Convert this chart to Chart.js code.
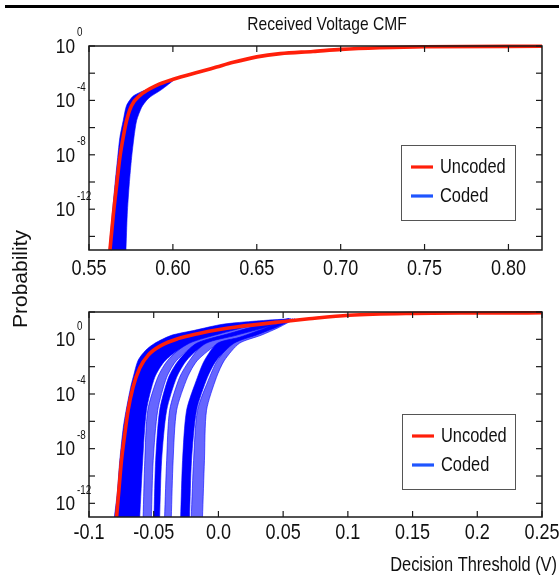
<!DOCTYPE html>
<html><head><meta charset="utf-8">
<script src="https://cdn.jsdelivr.net/npm/chart.js@4.4.0/dist/chart.umd.min.js"></script>
<style>
html,body{margin:0;padding:0;background:#fff;}
#wrap{position:relative;width:559px;height:577px;overflow:hidden;background:#fff;}
canvas{position:absolute;left:0;top:0;}
#rule{position:absolute;left:5px;top:5px;width:554px;height:2.5px;background:#000;}
</style></head><body>
<div id="wrap"><div id="rule"></div><canvas id="cTop" width="559" height="577"></canvas><canvas id="cBot" width="559" height="577"></canvas></div>
<script>
// ---------- tick definitions ----------
const topXTicks = [0.55, 0.60, 0.65, 0.70, 0.75, 0.80];
const topXLabels = ['0.55', '0.60', '0.65', '0.70', '0.75', '0.80'];
const bottomXTicks = [-0.1, -0.05, 0, 0.05, 0.1, 0.15, 0.2, 0.25];
const bottomXLabels = ['-0.1', '-0.05', '0.0', '0.05', '0.1', '0.15', '0.2', '0.25'];
const topYTickExps = [0, -2, -4, -6, -8, -10, -12, -14];
const bottomYTickExps = [2, 0, -2, -4, -6, -8, -10, -12];
const yLabelExps = [0, -4, -8, -12];

// ---------- data: [threshold (V), log10 probability] ----------
// Top panel
const topUncoded = [[0.5625,-15.0],[0.5645,-12.4],[0.5665,-10.2],[0.5684,-8.2],[0.5704,-6.7],[0.5724,-5.48],[0.5754,-4.37],[0.5804,-3.63],[0.5903,-2.89],[0.6002,-2.45],[0.616,-1.9],[0.626,-1.55],[0.636,-1.2],[0.65,-0.8],[0.664,-0.56],[0.6835,-0.4],[0.7004,-0.25],[0.7232,-0.13],[0.75,-0.05],[0.82,-0.02]];
const topCodedLeft = [[0.5619,-15.11],[0.5639,-12.37],[0.5655,-10.15],[0.5671,-8.2],[0.5684,-6.72],[0.5704,-5.48],[0.5724,-4.37],[0.5762,-3.7],[0.5804,-3.41],[0.5863,-3.11],[0.5922,-2.81],[0.601,-2.42]];
const topCodedRight = [[0.572,-15.11],[0.5728,-12.37],[0.574,-10.15],[0.5754,-8.2],[0.5768,-6.72],[0.5784,-5.48],[0.5814,-4.5],[0.5843,-4.0],[0.5863,-3.76],[0.5933,-3.2],[0.601,-2.46]];
// Bottom panel
const bottomUncoded = [[-0.0787,-13],[-0.0767,-10.8],[-0.0749,-8.85],[-0.0723,-6.9],[-0.0698,-5.2],[-0.066,-3.5],[-0.0608,-2.1],[-0.0544,-1.17],[-0.0441,-0.44],[-0.0313,0.05],[-0.0159,0.41],[-0.0005,0.7],[0.015,0.92],[0.047,1.27],[0.07,1.5],[0.101,1.76],[0.15,1.9],[0.2,1.93],[0.25,1.94]];
const codedBundle1Left = [[-0.0804,-13.02],[-0.0782,-11.27],[-0.0762,-8.85],[-0.0735,-6.44],[-0.0713,-5.19],[-0.0678,-3.5],[-0.0659,-2.78],[-0.0621,-1.54],[-0.0562,-0.8],[-0.0492,-0.29],[-0.0364,0.29],[-0.0185,0.66],[0.0031,1.1],[0.0292,1.34],[0.0546,1.5]];
const codedBundle1Right = [[-0.0608,-13.02],[-0.0585,-8.85],[-0.0556,-5.19],[-0.0492,-2.78],[-0.0410,-1.54],[-0.0225,-0.29],[0.0025,0.44],[0.033,1.17],[0.0546,1.5]];
const codedBundle2Left = [[-0.0582,-13.02],[-0.0569,-8.85],[-0.0546,-5.19],[-0.0469,-2.78],[-0.0392,-1.54],[-0.0239,-0.29],[0.0007,0.44],[0.0315,1.17],[0.0546,1.5]];
const codedBundle2Right = [[-0.0518,-13.02],[-0.0504,-8.85],[-0.0469,-5.19],[-0.04,-2.78],[-0.0323,-1.54],[-0.016,-0.29],[0.0075,0.37],[0.035,1.1],[0.0546,1.5]];
const codedBundle3Left = [[-0.0498,-13.02],[-0.0485,-8.85],[-0.0454,-5.19],[-0.0385,-2.78],[-0.0308,-1.54],[-0.0169,-0.29],[0.0062,0.37],[0.034,1.1],[0.0555,1.5]];
const codedBundle3Right = [[-0.0454,-13.02],[-0.0439,-8.85],[-0.04,-5.19],[-0.0323,-2.78],[-0.0246,-1.54],[-0.0095,-0.29],[0.0135,0.29],[0.039,0.95],[0.0555,1.5]];
const codedBundle4Left = [[-0.0416,-13.02],[-0.04,-8.85],[-0.0377,-5.19],[-0.03,-2.78],[-0.0223,-1.54],[-0.0108,-0.29],[0.0123,0.29],[0.0377,0.95],[0.0562,1.5]];
const codedBundle4Right = [[-0.0364,-13.02],[-0.035,-8.85],[-0.0323,-5.19],[-0.0239,-2.78],[-0.0162,-1.54],[0.0005,-0.29],[0.0175,0.15],[0.037,0.8],[0.0562,1.5]];
const codedBundle5Left = [[-0.0292,-13.02],[-0.0277,-8.85],[-0.0246,-5.19],[-0.0162,-2.78],[-0.0108,-1.54],[-0.0008,-0.29],[0.0162,0.15],[0.0354,0.8],[0.0577,1.5]];
const codedBundle5Right = [[-0.0223,-13.02],[-0.0208,-8.85],[-0.0169,-5.19],[-0.0085,-2.78],[-0.0015,-1.54],[0.012,-0.29],[0.031,0.37],[0.0465,0.95],[0.0577,1.5]];
const codedBundle6Left = [[-0.021,-13.02],[-0.0192,-8.85],[-0.0162,-5.19],[-0.0069,-2.78],[-0.0008,-1.54],[0.0108,-0.29],[0.03,0.37],[0.0454,0.95],[0.0592,1.5]];
const codedBundle6Right = [[-0.0123,-13.02],[-0.0108,-8.85],[-0.0092,-5.19],[-0.0015,-2.78],[0.0046,-1.54],[0.0162,-0.29],[0.033,0.3],[0.0469,0.88],[0.0592,1.5]];

// ---------- helpers ----------
function hasFont(name){
  const c = document.createElement('canvas').getContext('2d');
  const s = 'abcdefghijklmnop0123456789ABCDEF';
  c.font = '40px monospace'; const w1 = c.measureText(s).width;
  c.font = '40px "' + name + '", monospace'; const w2 = c.measureText(s).width;
  return Math.abs(w1 - w2) > 0.5;
}
const NARROW = hasFont('Liberation Sans Narrow');
const FONT = NARROW ? '"Liberation Sans Narrow", sans-serif' : '"Liberation Sans", Arial, sans-serif';
function txt(ctx, s, x, y, size, align, baseline, rot, noScale){
  ctx.save();
  ctx.translate(x, y);
  if (rot) ctx.rotate(rot);
  let font = FONT;
  if (noScale) font = '"Liberation Sans", Arial, sans-serif';
  else if (!NARROW) ctx.scale(0.82, 1);
  ctx.font = size + 'px ' + font;
  ctx.textAlign = align; ctx.textBaseline = baseline; ctx.fillStyle = '#111';
  ctx.fillText(s, 0, 0);
  ctx.restore();
}
const toPts = arr => arr.map(p => ({x: p[0], y: Math.pow(10, p[1])}));
const shape = (left, right) => toPts(left).concat(toPts(right).reverse());

const RED = '#ff1f0a';
const BLUE = '#0000ff';
const LIGHT = 'rgba(0,0,255,0.6)';
const LEGBLUE = '#1f55ff';

function bandDs(left, right, dense){
  return {data: shape(left, right), showLine: true, fill: 'shape', tension: 0.25,
    backgroundColor: dense ? BLUE : LIGHT, borderColor: dense ? BLUE : 'rgba(0,0,255,0.75)',
    borderWidth: dense ? 0.6 : 0.8, pointRadius: 0};
}
function redDs(arr){
  return {data: toPts(arr), showLine: true, fill: false, borderColor: RED, borderWidth: 3.6,
    cubicInterpolationMode: 'monotone', pointRadius: 0, clip: 4};
}
function line(ctx, x1, y1, x2, y2){ ctx.beginPath(); ctx.moveTo(x1, y1); ctx.lineTo(x2, y2); ctx.stroke(); }

function decorPlugin(cfg){
  return {id: 'decor', afterDatasetsDraw(chart){
    const {ctx, chartArea: a} = chart;
    const x = chart.scales.x, y = chart.scales.y;
    ctx.save();
    ctx.strokeStyle = '#1a1a1a'; ctx.lineWidth = 1.5;
    ctx.strokeRect(a.left, a.top, a.right - a.left, a.bottom - a.top);
    ctx.lineWidth = 1.2;
    cfg.xTicks.forEach(v => { const px = x.getPixelForValue(v); line(ctx, px, a.bottom, px, a.bottom - 6); line(ctx, px, a.top, px, a.top + 6); });
    cfg.yTickExps.forEach(e => { const py = y.getPixelForValue(Math.pow(10, e)); line(ctx, a.left, py, a.left + 6, py); line(ctx, a.right, py, a.right - 6, py); });
    cfg.xTicks.forEach((v, i) => txt(ctx, cfg.xLabels[i], x.getPixelForValue(v), a.bottom + cfg.xLabelOffset, 22, 'center', 'middle'));
    yLabelExps.forEach(e => {
      const py = y.getPixelForValue(Math.pow(10, e));
      txt(ctx, '10', a.left - 14, py + 1, 21, 'right', 'middle');
      txt(ctx, String(e), a.left - 12, py - 13, 12, 'left', 'middle');
    });
    // legend
    const L = cfg.legend;
    ctx.fillStyle = '#fff'; ctx.fillRect(L.x, L.y, L.w, L.h);
    ctx.strokeStyle = '#555'; ctx.lineWidth = 1; ctx.strokeRect(L.x + 0.5, L.y + 0.5, L.w, L.h);
    ctx.lineWidth = 3.2;
    ctx.strokeStyle = RED; line(ctx, L.x + 10, L.y + 22, L.x + 32, L.y + 22);
    ctx.strokeStyle = LEGBLUE; line(ctx, L.x + 10, L.y + 51, L.x + 32, L.y + 51);
    txt(ctx, 'Uncoded', L.x + 39, L.y + 22, 20, 'left', 'middle');
    txt(ctx, 'Coded', L.x + 39, L.y + 51, 20, 'left', 'middle');
    if (cfg.extra) cfg.extra(ctx);
    ctx.restore();
  }};
}

function baseOptions(pad, xmin, xmax, ymin, ymax){
  return {
    responsive: false, animation: false, events: [], devicePixelRatio: 1,
    layout: {padding: pad},
    plugins: {legend: {display: false}, tooltip: {enabled: false}, title: {display: false}},
    scales: {
      x: {type: 'linear', min: xmin, max: xmax, display: false},
      y: {type: 'logarithmic', min: ymin, max: ymax, display: false}
    }
  };
}

new Chart(document.getElementById('cTop'), {
  type: 'scatter',
  data: {datasets: [redDs(topUncoded), bandDs(topCodedLeft, topCodedRight, true)]},
  options: baseOptions({left: 89, top: 46, right: 17, bottom: 327}, 0.55, 0.82, 1e-15, 1),
  plugins: [decorPlugin({xTicks: topXTicks, xLabels: topXLabels, yTickExps: topYTickExps, xLabelOffset: 19,
    legend: {x: 401, y: 145, w: 114, h: 75},
    extra: ctx => {
      txt(ctx, 'Received Voltage CMF', 327, 30, 19, 'center', 'alphabetic');
      txt(ctx, 'Probability', 21, 279, 21, 'center', 'middle', -Math.PI / 2, true);
    }})]
});

new Chart(document.getElementById('cBot'), {
  type: 'scatter',
  data: {datasets: [
    redDs(bottomUncoded),
    bandDs(codedBundle1Left, codedBundle1Right, true),
    bandDs(codedBundle2Left, codedBundle2Right, false),
    bandDs(codedBundle3Left, codedBundle3Right, true),
    bandDs(codedBundle4Left, codedBundle4Right, false),
    bandDs(codedBundle5Left, codedBundle5Right, true),
    bandDs(codedBundle6Left, codedBundle6Right, false)
  ]},
  options: baseOptions({left: 89, top: 312, right: 17, bottom: 60}, -0.1, 0.25, 1e-13, 1e2),
  plugins: [decorPlugin({xTicks: bottomXTicks, xLabels: bottomXLabels, yTickExps: bottomYTickExps, xLabelOffset: 16,
    legend: {x: 402, y: 414, w: 113, h: 75},
    extra: ctx => {
      txt(ctx, 'Decision Threshold (V)', 557, 571, 20, 'right', 'alphabetic');
    }})]
});
</script>
</body></html>
